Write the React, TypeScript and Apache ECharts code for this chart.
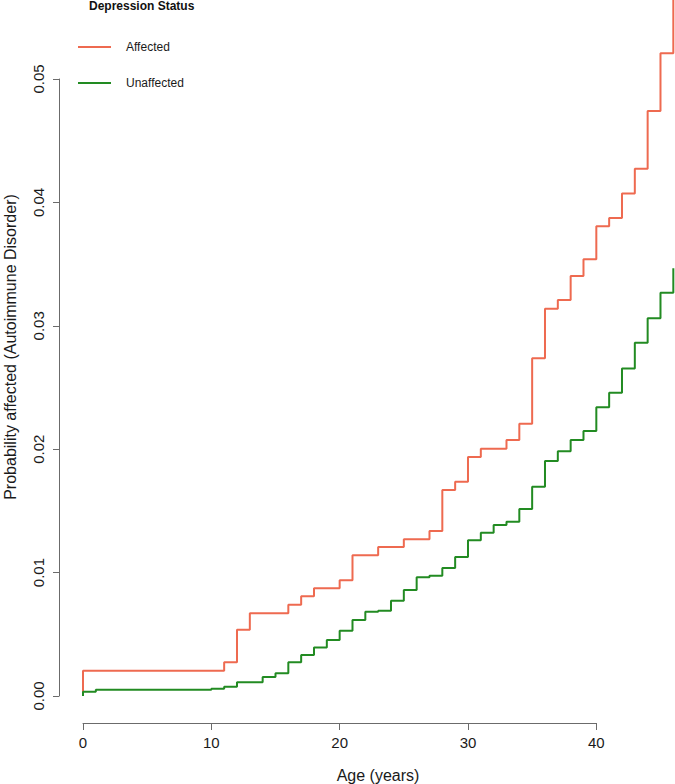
import React, { useEffect, useRef } from "react";
import * as echarts from "echarts";

// Step points: age (years) at which the cumulative probability changes, and its new value
const agesAffected = [0, 0, 11, 12, 13, 16, 17, 18, 20, 21, 23, 25, 27, 28, 29, 30, 31, 33, 34, 35, 36, 37, 38, 39, 40, 41, 42, 43, 44, 45, 46];
const probAffected = [0, 0.00205, 0.00273, 0.00537, 0.0067, 0.0074, 0.00808, 0.00873, 0.00938, 0.0114, 0.01207, 0.0127, 0.01337, 0.0167, 0.01737, 0.01937, 0.02004, 0.02075, 0.02207, 0.02737, 0.03139, 0.03209, 0.03404, 0.03539, 0.03806, 0.03874, 0.04073, 0.04273, 0.0474, 0.05208, 0.0575];

const agesUnaffected = [0, 0, 1, 10, 11, 12, 14, 15, 16, 17, 18, 19, 20, 21, 22, 23, 24, 25, 26, 27, 28, 29, 30, 31, 32, 33, 34, 35, 36, 37, 38, 39, 40, 41, 42, 43, 44, 45, 46];
const probUnaffected = [0, 0.00035, 0.0005, 0.00059, 0.00075, 0.00111, 0.00154, 0.00184, 0.00273, 0.00332, 0.00394, 0.00454, 0.00529, 0.00616, 0.00682, 0.00691, 0.00771, 0.00859, 0.00962, 0.00975, 0.01037, 0.01126, 0.01263, 0.01323, 0.01386, 0.01413, 0.01515, 0.01696, 0.01904, 0.01983, 0.02075, 0.02147, 0.0234, 0.02458, 0.02653, 0.02863, 0.03061, 0.03268, 0.03466];

const seriesNames = ["Affected", "Unaffected"];
const seriesColors = ["#EE6A50", "#228B22"];

const xTickMin = 0;
const xTickMax = 40;
const xTickStep = 10;
const yTickMin = 0;
const yTickMax = 0.05;
const yTickStep = 0.01;

const xLabel = "Age (years)";
const yLabel = "Probability affected (Autoimmune Disorder)";
const legendTitle = "Depression Status";

const FONT = "'Liberation Sans', Arial, Helvetica, sans-serif";

export default function App() {
  const ref = useRef<HTMLDivElement>(null);

  useEffect(() => {
    if (!ref.current) return;
    const chart = echarts.init(ref.current, undefined, { renderer: "svg" });

    const affected = agesAffected.map((a, i) => [a, probAffected[i]]);
    const unaffected = agesUnaffected.map((a, i) => [a, probUnaffected[i]]);

    const pxPerYear = 12.833;
    const dataLeft = 83;
    const dataWidth = 675 - dataLeft;
    const xDataMax = dataWidth / pxPerYear;
    const zeroY = 696;
    const pxPerUnit = 617 / 0.05;
    const yDataMax = zeroY / pxPerUnit;

    const axisColor = "#6b6b6b";
    const textColor = "#1a1a1a";

    chart.setOption({
      animation: false,
      backgroundColor: "#ffffff",
      textStyle: { fontFamily: FONT },
      title: {
        text: legendTitle,
        left: 89,
        top: 0,
        padding: 0,
        textStyle: { fontFamily: FONT, fontSize: 12, fontWeight: "bold", color: "#111" },
      },
      legend: {
        data: seriesNames.map((n, i) => ({
          name: n,
          icon: "rect",
          itemStyle: { color: seriesColors[i] },
        })),
        orient: "vertical",
        left: 78,
        top: 40,
        padding: 0,
        itemWidth: 33,
        itemHeight: 2,
        itemGap: 22,
        textStyle: { fontFamily: FONT, fontSize: 12, lineHeight: 14, height: 14, color: textColor, padding: [0, 0, 0, 10] },
      },
      grid: [
        { left: dataLeft, top: 0, width: dataWidth, height: zeroY, containLabel: false },
        { left: dataLeft, top: 0, width: (xTickMax - xTickMin) * pxPerYear, height: 723, containLabel: false },
        { left: 59, top: 79, width: 10, height: 617, containLabel: false },
      ],
      xAxis: [
        { type: "value", gridIndex: 0, min: 0, max: xDataMax, show: false },
        {
          type: "value",
          gridIndex: 1,
          min: xTickMin,
          max: xTickMax,
          interval: xTickStep,
          position: "bottom",
          axisLine: { show: true, lineStyle: { color: axisColor, width: 1 } },
          axisTick: { show: true, length: 7, inside: false, lineStyle: { color: axisColor, width: 1 } },
          axisLabel: { show: true, margin: 12, fontSize: 15, color: textColor, fontFamily: FONT },
          splitLine: { show: false },
        },
        { type: "value", gridIndex: 2, min: 0, max: 1, show: false },
      ],
      yAxis: [
        { type: "value", gridIndex: 0, min: 0, max: yDataMax, show: false },
        { type: "value", gridIndex: 1, min: 0, max: 1, show: false },
        {
          type: "value",
          gridIndex: 2,
          min: yTickMin,
          max: yTickMax,
          interval: yTickStep,
          position: "left",
          axisLine: { show: true, lineStyle: { color: axisColor, width: 1 } },
          axisTick: { show: true, length: 6, inside: false, lineStyle: { color: axisColor, width: 1 } },
          axisLabel: {
            show: true,
            rotate: 90,
            margin: 13,
            fontSize: 15,
            color: textColor,
            fontFamily: FONT,
            formatter: (v: number) => v.toFixed(2),
          },
          splitLine: { show: false },
        },
      ],
      series: [
        {
          name: seriesNames[0],
          type: "line",
          step: "end",
          xAxisIndex: 0,
          yAxisIndex: 0,
          data: affected,
          symbol: "none",
          showSymbol: false,
          clip: true,
          lineStyle: { color: seriesColors[0], width: 2 },
          itemStyle: { color: seriesColors[0] },
        },
        {
          name: seriesNames[1],
          type: "line",
          step: "end",
          xAxisIndex: 0,
          yAxisIndex: 0,
          data: unaffected,
          symbol: "none",
          showSymbol: false,
          clip: true,
          lineStyle: { color: seriesColors[1], width: 2 },
          itemStyle: { color: seriesColors[1] },
        },
      ],
      graphic: [
        {
          type: "text",
          x: 378,
          y: 775,
          style: {
            text: xLabel,
            fontFamily: FONT,
            fontSize: 16,
            fill: textColor,
            textAlign: "center",
            textVerticalAlign: "middle",
          },
        },
        {
          type: "text",
          x: 10,
          y: 347,
          rotation: Math.PI / 2,
          style: {
            text: yLabel,
            fontFamily: FONT,
            fontSize: 16,
            fill: textColor,
            textAlign: "center",
            textVerticalAlign: "middle",
          },
        },
      ],
    });

    return () => {
      chart.dispose();
    };
  }, []);

  return (
    <div
      ref={ref}
      style={{ position: "fixed", left: 0, top: 0, width: 675, height: 784, background: "#fff" }}
    />
  );
}
